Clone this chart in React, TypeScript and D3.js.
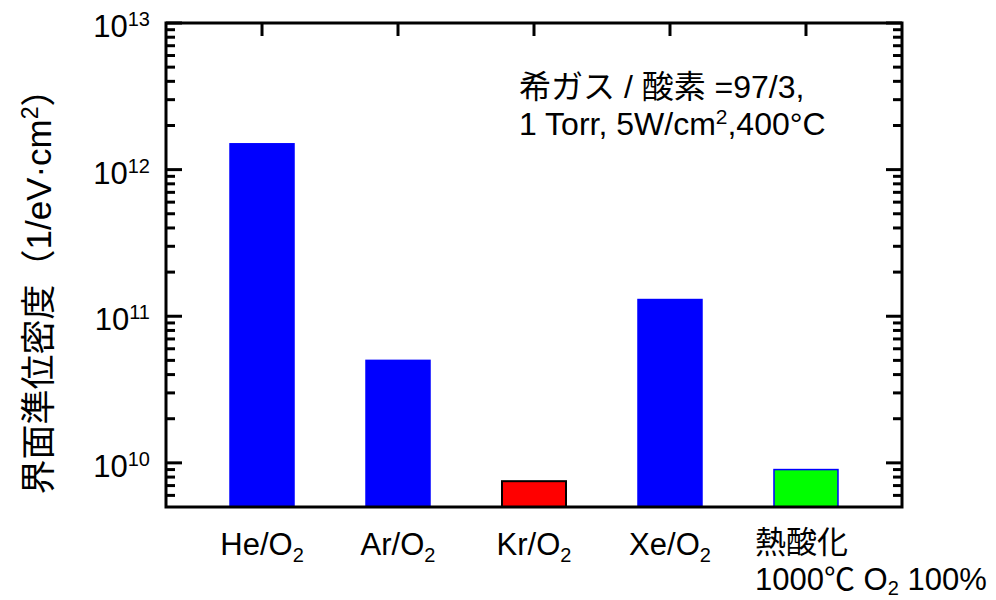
import * as d3 from "d3";

const width = 996;
const height = 600;

const categories = ["He", "Ar", "Kr", "Xe", "thermal"];
const values = [1.5e12, 5.0e10, 7.5e9, 1.3e11, 9.0e9];
const fills = ["#0000ff", "#0000ff", "#ff0000", "#0000ff", "#00ff00"];
const strokes = ["#0000ff", "#0000ff", "#000000", "#0000ff", "#0000ff"];
const majorTicks = [1e10, 1e11, 1e12, 1e13];
const majorExp = ["10", "11", "12", "13"];

const font = "'Liberation Sans', Arial, 'Noto Sans CJK JP', sans-serif";

export default function App() {
  const left = 166, right = 902, top = 23, bottom = 507;

  const y = d3.scaleLog().domain([5e9, 1e13]).range([bottom, top]);
  const x = d3.scalePoint<string>().domain(categories).range([left, right]).padding(0.706);
  const barW = 64;

  // minor ticks 2..9 per decade
  const minor: number[] = [];
  for (let e = 9; e < 13; e++) {
    for (let m = 2; m <= 9; m++) {
      const v = m * Math.pow(10, e);
      if (v > 5e9 && v < 1e13) minor.push(v);
    }
  }

  return (
    <svg width={width} height={height} style={{ position: "absolute", left: 0, top: 0 }} fontFamily={font}>
      <rect width={width} height={height} fill="#fff" />
      {categories.map((c, i) => (
        <rect
          key={c}
          x={x(c)! - barW / 2}
          y={y(values[i])}
          width={barW}
          height={bottom - y(values[i])}
          fill={fills[i]}
          stroke={strokes[i]}
          strokeWidth={i === 2 ? 2 : 1.5}
        />
      ))}
      {categories.map((c) => (
        <line key={c} x1={x(c)} x2={x(c)} y1={top} y2={top + 13} stroke="#000" strokeWidth={3} />
      ))}
      {majorTicks.map((t) => (
        <g key={t}>
          <line x1={left} x2={left + 16} y1={y(t)} y2={y(t)} stroke="#000" strokeWidth={3} />
          <line x1={right - 16} x2={right} y1={y(t)} y2={y(t)} stroke="#000" strokeWidth={3} />
        </g>
      ))}
      {minor.map((t) => (
        <g key={t}>
          <line x1={left} x2={left + 9} y1={y(t)} y2={y(t)} stroke="#000" strokeWidth={3} />
          <line x1={right - 9} x2={right} y1={y(t)} y2={y(t)} stroke="#000" strokeWidth={3} />
        </g>
      ))}
      <rect x={left} y={top} width={right - left} height={bottom - top} fill="none" stroke="#000" strokeWidth={3} />
      {majorTicks.map((t, i) => (
        <text key={t} x={150} y={y(t) + 14} textAnchor="end" fontSize={31} fill="#000">
          <tspan>10</tspan>
          <tspan dy={-11} fontSize={20}>{majorExp[i]}</tspan>
        </text>
      ))}
      <text transform="translate(51, 283) rotate(-90)" textAnchor="middle" fontSize={35} fill="#000">
        <tspan>界面準位密度（1/eV·cm</tspan>
        <tspan dy={-13} fontSize={23}>2</tspan>
        <tspan dy={13}>）</tspan>
      </text>
      {categories.slice(0, 4).map((c) => (
        <text key={c} x={x(c)} y={555} textAnchor="middle" fontSize={31} fill="#000">
          <tspan>{c}/O</tspan>
          <tspan dy={7} fontSize={20}>2</tspan>
        </text>
      ))}
      <text x={x("thermal")! - 51} y={553} fontSize={31} fill="#000">熱酸化</text>
      <text x={x("thermal")! - 51} y={590} fontSize={31} fill="#000">
        <tspan>1000℃ O</tspan>
        <tspan dy={5} fontSize={20}>2</tspan>
        <tspan dy={-5}> 100%</tspan>
      </text>
      <text x={519} y={98} fontSize={32} fill="#000">希ガス / 酸素 =97/3,</text>
      <text x={519} y={135} fontSize={32} fill="#000">
        <tspan>1 Torr, 5W/cm</tspan>
        <tspan dy={-11} fontSize={21}>2</tspan>
        <tspan dy={11}>,400°C</tspan>
      </text>
    </svg>
  );
}
